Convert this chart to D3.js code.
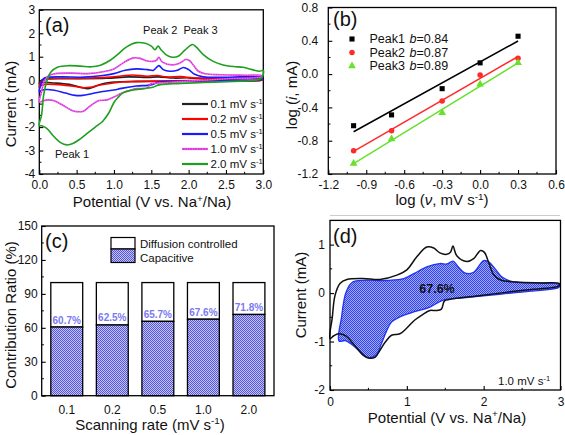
<!DOCTYPE html>
<html><head><meta charset="utf-8">
<script src="https://cdn.jsdelivr.net/npm/d3@7"></script>
<style>body{margin:0;background:#fff}svg{display:block}text{font-family:"Liberation Sans",Arial,sans-serif;fill:#111}</style>
</head><body>
<script>
// ================= DATA =================
// (a) CV curves at different scan rates: closed loops [potential V, current mA]
const rateLabels = ["0.1", "0.2", "0.5", "1.0", "2.0"];
const cv01 = [[0.0,-0.15],[0.03,0.0],[0.1,0.05],[0.5,0.06],[0.9,0.08],[1.2,0.14],[1.45,0.12],[1.6,0.14],[1.8,0.09],[2.0,0.1],[2.3,0.05],[2.98,0.04],
  [2.98,0.0],[2.5,-0.02],[1.8,-0.04],[1.3,-0.05],[1.0,-0.08],[0.85,-0.15],[0.72,-0.3],[0.65,-0.36],[0.55,-0.3],[0.4,-0.18],[0.2,-0.12],[0.05,-0.1]];
const cv02 = [[0.0,-0.3],[0.03,-0.05],[0.08,0.06],[0.3,0.08],[0.6,0.08],[0.9,0.12],[1.1,0.18],[1.25,0.22],[1.45,0.17],[1.58,0.2],[1.7,0.14],[1.9,0.15],[2.05,0.1],[2.3,0.08],[2.98,0.08],
  [2.98,0.02],[2.5,0.0],[2.0,-0.02],[1.6,-0.04],[1.3,-0.06],[1.1,-0.08],[0.95,-0.14],[0.8,-0.22],[0.68,-0.3],[0.6,-0.32],[0.5,-0.28],[0.35,-0.22],[0.2,-0.18],[0.08,-0.18],[0.03,-0.22]];
const cv05 = [[0.0,-0.5],[0.02,-0.2],[0.05,0.05],[0.1,0.12],[0.3,0.14],[0.6,0.13],[0.85,0.2],[1.0,0.28],[1.15,0.42],[1.3,0.48],[1.45,0.45],[1.53,0.42],[1.6,0.62],[1.66,0.45],[1.75,0.38],[1.85,0.42],[1.93,0.54],[2.0,0.45],[2.08,0.25],[2.2,0.14],[2.5,0.12],[2.98,0.12],
  [2.98,0.04],[2.5,0.0],[2.0,-0.04],[1.6,-0.08],[1.52,-0.18],[1.45,-0.22],[1.3,-0.25],[1.1,-0.35],[1.0,-0.42],[0.85,-0.48],[0.7,-0.58],[0.58,-0.65],[0.48,-0.65],[0.35,-0.55],[0.2,-0.43],[0.1,-0.4],[0.04,-0.42]];
const cv10 = [[0.0,-0.94],[0.03,-0.5],[0.065,-0.05],[0.13,0.2],[0.22,0.28],[0.43,0.3],[0.65,0.28],[0.87,0.37],[1.0,0.48],[1.13,0.75],[1.26,0.95],[1.35,0.93],[1.43,0.83],[1.52,0.8],[1.57,0.85],[1.6,0.97],[1.65,0.77],[1.78,0.65],[1.87,0.71],[1.96,0.88],[2.01,0.84],[2.07,0.61],[2.13,0.38],[2.22,0.27],[2.43,0.23],[2.74,0.21],[2.98,0.2],
  [2.98,0.15],[2.52,0.06],[1.96,-0.05],[1.56,-0.13],[1.49,-0.16],[1.45,-0.33],[1.38,-0.36],[1.3,-0.36],[1.2,-0.45],[1.1,-0.56],[1.0,-0.72],[0.91,-0.84],[0.8,-0.87],[0.72,-1.01],[0.65,-1.18],[0.59,-1.32],[0.5,-1.34],[0.43,-1.28],[0.3,-1.04],[0.2,-0.88],[0.11,-0.84],[0.05,-0.88]];
const cv20 = [[0.0,-1.92],[0.03,-1.5],[0.06,-0.6],[0.1,-0.05],[0.15,0.33],[0.25,0.56],[0.4,0.62],[0.55,0.6],[0.7,0.57],[0.82,0.64],[0.95,0.85],[1.05,1.1],[1.17,1.42],[1.3,1.6],[1.42,1.57],[1.5,1.45],[1.55,1.3],[1.59,1.45],[1.63,1.3],[1.7,1.08],[1.78,0.98],[1.86,1.02],[1.95,1.28],[2.05,1.52],[2.1,1.42],[2.2,1.08],[2.33,0.8],[2.45,0.66],[2.6,0.58],[2.73,0.55],[2.85,0.45],[2.95,0.38],[3.0,0.42],
  [2.98,0.1],[2.9,0.0],[2.6,-0.05],[2.2,-0.1],[1.8,-0.15],[1.6,-0.2],[1.52,-0.3],[1.4,-0.36],[1.25,-0.42],[1.13,-0.52],[1.05,-0.75],[1.0,-0.95],[0.93,-1.4],[0.85,-1.75],[0.75,-2.0],[0.65,-2.25],[0.55,-2.5],[0.45,-2.7],[0.37,-2.76],[0.28,-2.65],[0.18,-2.35],[0.1,-2.05],[0.04,-1.95]];
const cvSeries = [cv01, cv02, cv05, cv10, cv20];
const xTicksA = [0, 0.5, 1, 1.5, 2, 2.5, 3];
const yTicksA = [-4, -3, -2, -1, 0, 1, 2, 3];
const peakLabelsA = [["Peak 1", 0.21, -3.3], ["Peak 2", 1.39, 1.95], ["Peak 3", 1.93, 1.95]];

// (b) log(i) vs log(v)
const logRate = [-1, -0.7, -0.3, 0, 0.3];
const peak1 = [-0.62, -0.49, -0.175, 0.135, 0.455];
const peak2 = [-0.92, -0.68, -0.323, -0.012, 0.19];
const peak3 = [-1.075, -0.78, -0.463, -0.123, 0.135];
const peakNames = ["Peak1", "Peak2", "Peak3"];
const bValues = ["0.84", "0.87", "0.89"];
const xTicksB = [-1.2, -0.9, -0.6, -0.3, 0, 0.3, 0.6];
const yTicksB = [-1.2, -0.8, -0.4, 0, 0.4, 0.8];

// (c) contribution ratio
const scanRates = ["0.1", "0.2", "0.5", "1.0", "2.0"];
const capacitive = [60.7, 62.5, 65.7, 67.6, 71.8];
const totalRatio = [100, 100, 100, 100, 100];
const yTicksC = [0, 30, 60, 90, 120, 150];

// (d) capacitive region at 1.0 mV/s
const capD = [[0.117,-0.99],[0.15,-0.5],[0.21,0.02],[0.3,0.23],[0.74,0.26],[0.96,0.3],[1.09,0.4],[1.26,0.54],[1.43,0.61],[1.52,0.6],[1.6,0.66],[1.67,0.54],[1.76,0.41],[1.87,0.43],[2.0,0.67],[2.07,0.64],[2.15,0.5],[2.24,0.33],[2.39,0.23],[2.69,0.21],[2.98,0.18],
  [2.98,0.12],[2.61,0.04],[2.17,-0.03],[1.74,-0.1],[1.48,-0.14],[1.3,-0.29],[1.09,-0.39],[0.91,-0.49],[0.8,-0.6],[0.74,-0.77],[0.67,-1.04],[0.6,-1.28],[0.5,-1.33],[0.43,-1.26],[0.3,-1.08],[0.2,-0.98]];
const capPercentD = "67.6%";
const xTicksD = [0, 1, 2, 3];
const yTicksD = [-2, -1, 0, 1];

// ================= STYLE =================
const cvColors = ["#222222", "#ff0000", "#1a1aff", "#dd33dd", "#1f9f1f"];
const peakColors = ["#000000", "#ff2a2a", "#66e22a"];
const FONT = "Liberation Sans, Arial, sans-serif";

const svg = d3.select("body").append("svg").attr("width", 565).attr("height", 435);
const defs = svg.append("defs");
function checker(id, c1, c2) {
  const p = defs.append("pattern").attr("id", id).attr("width", 2).attr("height", 2).attr("patternUnits", "userSpaceOnUse");
  p.append("rect").attr("width", 2).attr("height", 2).attr("fill", c2);
  p.append("rect").attr("width", 1).attr("height", 1).attr("fill", c1);
  p.append("rect").attr("x", 1).attr("y", 1).attr("width", 1).attr("height", 1).attr("fill", c1);
}
checker("patC", "#5656dc", "#c4c4f6");
checker("patD", "#3344ee", "#9fa8fa");

function fmt1(d) { return d3.format(".1f")(d).replace("−", "-"); }
function fmt0(d) { return String(d); }

function frame(g, x, y, o) {
  const [x0, x1] = o.xr || x.range();
  const [yb, yt] = y.range();
  g.append("rect").attr("x", x0).attr("y", yt).attr("width", x1 - x0).attr("height", yb - yt)
    .attr("fill", "none").attr("stroke", "#000").attr("stroke-width", 1.3);
  if (o.xTicks) {
    const ax = g.append("g").attr("transform", `translate(0,${yb})`)
      .call(d3.axisBottom(x).tickValues(o.xTicks).tickFormat(o.xFmt).tickSizeInner(-4).tickSizeOuter(0).tickPadding(o.xPad));
    ax.select(".domain").remove();
    ax.selectAll("text").attr("font-size", "12px").attr("font-family", FONT).attr("fill", "#111");
    ax.selectAll("line").attr("stroke-width", 1.1);
  }
  const ay = g.append("g").attr("transform", `translate(${x0},0)`)
    .call(d3.axisLeft(y).tickValues(o.yTicks).tickFormat(o.yFmt).tickSizeInner(-4).tickSizeOuter(0).tickPadding(o.yPad));
  ay.select(".domain").remove();
  ay.selectAll("text").attr("font-size", "12px").attr("font-family", FONT).attr("fill", "#111");
  ay.selectAll("line").attr("stroke-width", 1.1);
  (o.xMinor || []).forEach(v => g.append("line").attr("x1", x(v)).attr("x2", x(v)).attr("y1", yb).attr("y2", yb - 2.2).attr("stroke", "#000"));
  (o.yMinor || []).forEach(v => g.append("line").attr("x1", x0).attr("x2", x0 + 2.2).attr("y1", y(v)).attr("y2", y(v)).attr("stroke", "#000"));
}
function rich(g, x, y, parts, size, opts = {}) {
  const t = g.append("text").attr("x", x).attr("y", y).attr("font-size", size + "px")
    .attr("text-anchor", opts.anchor || "middle");
  if (opts.rotate) t.attr("transform", `rotate(-90,${x},${y})`);
  if (opts.weight) t.attr("font-weight", opts.weight);
  if (opts.fill) t.style("fill", opts.fill);
  let shift = 0;
  const up = size * 0.36;
  parts.forEach(p => {
    const s = t.append("tspan").text(p.t);
    if (p.sup) { s.attr("dy", -up - shift).attr("font-size", (size * 0.66) + "px"); shift = -up; }
    else { if (shift) s.attr("dy", -shift); shift = 0; }
    if (p.it) s.attr("font-style", "italic");
  });
  return t;
}
function panelLabel(x, y, s) {
  svg.append("text").attr("x", x).attr("y", y).attr("font-size", "20px").text(s);
}

// ================= PANEL (a) =================
{
  const g = svg.append("g");
  const x = d3.scaleLinear().domain([0, 3]).range([39.3, 263.3]);
  const y = d3.scaleLinear().domain([-4, 3]).range([174, 9.8]);
  frame(g, x, y, { xTicks: xTicksA, xFmt: fmt1, xPad: 6, yTicks: yTicksA, yFmt: fmt0, yPad: 4,
    xMinor: [0.25, 0.75, 1.25, 1.75, 2.25, 2.75], yMinor: [-3.5, -2.5, -1.5, -0.5, 0.5, 1.5, 2.5] });
  const line = d3.line().x(d => x(d[0])).y(d => y(d[1])).curve(d3.curveCatmullRomClosed.alpha(0.5));
  cvSeries.forEach((s, i) => {
    g.append("path").attr("d", line(s)).attr("fill", "none").attr("stroke", cvColors[i]).attr("stroke-width", 1.6);
    if (i === 3) g.append("path").attr("d", line(s)).attr("fill", "none").attr("stroke", "#f8b0f8").attr("stroke-width", 0.6).attr("stroke-dasharray", "1,1.5");
  });
  // legend
  rateLabels.forEach((r, i) => {
    const yy = 104 + i * 15;
    g.append("line").attr("x1", 182).attr("x2", 208).attr("y1", yy).attr("y2", yy).attr("stroke", cvColors[i]).attr("stroke-width", 2.2);
    if (i === 3) g.append("line").attr("x1", 182).attr("x2", 208).attr("y1", yy).attr("y2", yy).attr("stroke", "#f8b0f8").attr("stroke-width", 0.7).attr("stroke-dasharray", "1,1.5");
    rich(g, 210.5, yy + 4.2, [{ t: r + " mV s" }, { t: "-1", sup: true }], 11.5, { anchor: "start" });
  });
  peakLabelsA.forEach(p => g.append("text").attr("x", x(p[1])).attr("y", y(p[2])).attr("font-size", "11px").text(p[0]));
  rich(svg, 15.5, 104, [{ t: "Current (mA)" }], 15, { rotate: true });
  rich(svg, 152, 207, [{ t: "Potential (V vs. Na" }, { t: "+", sup: true }, { t: "/Na)" }], 15);
  panelLabel(45, 32, "(a)");
}

// ================= PANEL (b) =================
{
  const g = svg.append("g");
  const x = d3.scaleLinear().domain([-1.2, 0.6]).range([328.3, 556]);
  const y = d3.scaleLinear().domain([-1.2, 0.8]).range([174, 7.5]);
  frame(g, x, y, { xTicks: xTicksB, xFmt: fmt1, xPad: 6, yTicks: yTicksB, yFmt: fmt1, yPad: 10,
    xMinor: [-1.05, -0.75, -0.45, -0.15, 0.15, 0.45], yMinor: [-1.0, -0.6, -0.2, 0.2, 0.6] });
  const peaks = [peak1, peak2, peak3];
  peaks.forEach((p, i) => {
    const mx = d3.mean(logRate), my = d3.mean(p);
    const k = d3.sum(logRate, (v, j) => (v - mx) * (p[j] - my)) / d3.sum(logRate, v => (v - mx) ** 2);
    const b0 = my - k * mx;
    const xs = d3.extent(logRate);
    g.append("line").attr("x1", x(xs[0])).attr("x2", x(xs[1])).attr("y1", y(b0 + k * xs[0])).attr("y2", y(b0 + k * xs[1]))
      .attr("stroke", peakColors[i]).attr("stroke-width", 1.5);
  });
  const sym = [d3.symbolSquare, d3.symbolCircle, d3.symbolTriangle];
  const symSize = [26, 24, 26];
  peaks.forEach((p, i) => {
    g.selectAll(null).data(p).join("path")
      .attr("transform", (d, j) => `translate(${x(logRate[j])},${y(d)})`)
      .attr("d", d3.symbol(sym[i], symSize[i])).attr("fill", peakColors[i]);
    const yy = 39 + i * 13.5;
    g.append("path").attr("transform", `translate(352,${yy})`).attr("d", d3.symbol(sym[i], symSize[i])).attr("fill", peakColors[i]);
    g.append("text").attr("x", 369.5).attr("y", yy + 4.4).attr("font-size", "12.5px").text(peakNames[i]);
    rich(g, 409.5, yy + 4.4, [{ t: "b", it: true }, { t: "=" + bValues[i] }], 12.5, { anchor: "start" });
  });
  rich(svg, 296.5, 95, [{ t: "log (" }, { t: "i", it: true }, { t: ", mA)" }], 15, { rotate: true });
  rich(svg, 442, 205, [{ t: "log (" }, { t: "ν", it: true }, { t: ", mV s" }, { t: "-1", sup: true }, { t: ")" }], 15);
  panelLabel(333, 26, "(b)");
  svg.append("line").attr("x1", 330).attr("x2", 560).attr("y1", 215.5).attr("y2", 215.5).attr("stroke", "#cccccc").attr("stroke-width", 1);
}

// ================= PANEL (c) =================
{
  const g = svg.append("g");
  const x = d3.scaleBand().domain(scanRates).range([41.7, 274]).paddingInner(0.3).paddingOuter(0.2);
  const y = d3.scaleLinear().domain([0, 150]).range([395.7, 226]);
  scanRates.forEach((r, i) => {
    g.append("rect").attr("x", x(r)).attr("width", x.bandwidth()).attr("y", y(totalRatio[i])).attr("height", y(capacitive[i]) - y(totalRatio[i]))
      .attr("fill", "#fff").attr("stroke", "#000").attr("stroke-width", 1.3);
    g.append("rect").attr("x", x(r)).attr("width", x.bandwidth()).attr("y", y(capacitive[i])).attr("height", y(0) - y(capacitive[i]))
      .attr("fill", "url(#patC)").attr("stroke", "#000").attr("stroke-width", 1.3);
    g.append("text").attr("x", x(r) + x.bandwidth() / 2).attr("y", y(capacitive[i]) - 3.5).attr("text-anchor", "middle")
      .attr("font-size", "10px").attr("font-weight", "bold").style("fill", "#7a7af0").text(capacitive[i].toFixed(1) + "%");
  });
  frame(g, x, y, { xr: x.range(), yTicks: yTicksC, yFmt: fmt0, yPad: 4, yMinor: [15, 45, 75, 105, 135] });
  scanRates.forEach(r => g.append("text").attr("x", x(r) + x.bandwidth() / 2).attr("y", 413.5).attr("text-anchor", "middle").attr("font-size", "12px").text(r));
  g.append("rect").attr("x", 111).attr("y", 237.5).attr("width", 24).attr("height", 11.5).attr("fill", "#fff").attr("stroke", "#000").attr("stroke-width", 1.2);
  g.append("rect").attr("x", 111).attr("y", 249).attr("width", 24).attr("height", 13.5).attr("fill", "url(#patC)").attr("stroke", "#000").attr("stroke-width", 1.2);
  g.append("text").attr("x", 140).attr("y", 247.5).attr("font-size", "11.5px").text("Diffusion controlled");
  g.append("text").attr("x", 140).attr("y", 261.8).attr("font-size", "11.5px").text("Capacitive");
  rich(svg, 15.5, 315, [{ t: "Contribution Ratio (%)" }], 15, { rotate: true });
  rich(svg, 150, 429.5, [{ t: "Scanning rate (mV s" }, { t: "-1", sup: true }, { t: ")" }], 15);
  panelLabel(45, 248, "(c)");
}

// ================= PANEL (d) =================
{
  const g = svg.append("g");
  const x = d3.scaleLinear().domain([0, 3]).range([330, 560.5]);
  const y = d3.scaleLinear().domain([-2, 1.5]).range([390, 220.4]);
  const line = d3.line().x(d => x(d[0])).y(d => y(d[1])).curve(d3.curveCatmullRomClosed.alpha(0.5));
  g.append("path").attr("d", line(capD)).attr("fill", "url(#patD)").attr("stroke", "#2233ee").attr("stroke-width", 1.3);
  g.append("path").attr("d", line(cv10)).attr("fill", "none").attr("stroke", "#111").attr("stroke-width", 1.5);
  frame(g, x, y, { xTicks: xTicksD, xFmt: fmt0, xPad: 7, yTicks: yTicksD, yFmt: fmt0, yPad: 5,
    xMinor: [0.5, 1.5, 2.5], yMinor: [-1.5, -0.5, 0.5] });
  g.append("text").attr("x", 437).attr("y", 292.5).attr("text-anchor", "middle").attr("font-size", "12.5px").attr("font-weight", "bold").text(capPercentD);
  rich(g, 498, 385, [{ t: rateLabels[3] + " mV s" }, { t: "-1", sup: true }], 11.5, { anchor: "start" });
  rich(svg, 305.5, 295, [{ t: "Current (mA)" }], 15, { rotate: true });
  rich(svg, 447, 422.5, [{ t: "Potential (V vs. Na" }, { t: "+", sup: true }, { t: "/Na)" }], 15);
  panelLabel(333, 243, "(d)");
}
</script>
</body></html>
